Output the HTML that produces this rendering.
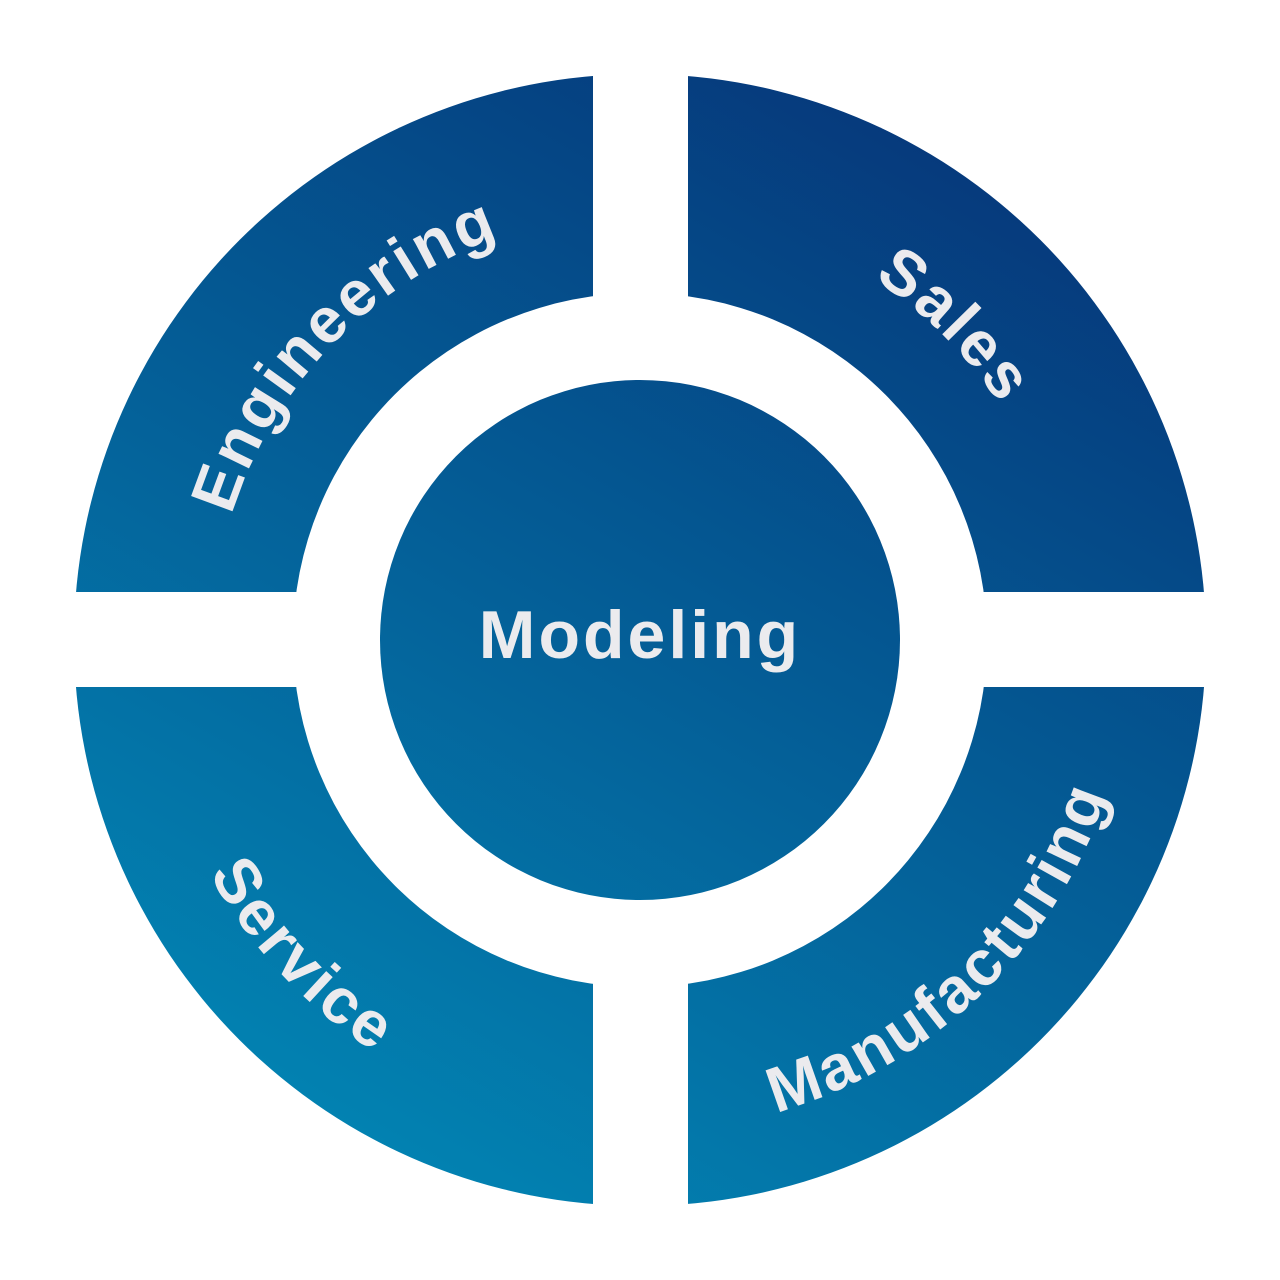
<!DOCTYPE html>
<html><head><meta charset="utf-8"><style>
html,body{margin:0;padding:0;background:#fff;}
svg{display:block}
text{font-family:"Liberation Sans",sans-serif;font-weight:bold;fill:#ebebee;}
</style></head><body>
<svg width="1280" height="1280" viewBox="0 0 1280 1280">
<defs>
<linearGradient id="g" gradientUnits="userSpaceOnUse" x1="1000" y1="60" x2="330" y2="1230">
<stop offset="0" stop-color="#063377"/>
<stop offset="1" stop-color="#0288b6"/>
</linearGradient>
<path id="pe" d="M341.3,949.3 A430,430 0 0,1 938.7,330.7" fill="none"/>
<path id="ps" d="M335.9,335.9 A430,430 0 0,1 944.1,944.1" fill="none"/>
<path id="pv" d="M305.8,281.6 A490,490 0 0,0 974.2,998.4" fill="none"/>
<path id="pm" d="M286.1,981.8 A492,492 0 0,0 993.9,298.2" fill="none"/>
</defs>
<rect width="1280" height="1280" fill="#fff"/>
<circle cx="640" cy="640" r="566" fill="url(#g)"/>
<circle cx="640" cy="640" r="347" fill="#fff"/>
<circle cx="640" cy="640" r="260" fill="url(#g)"/>
<rect x="593" y="60" width="95" height="320" fill="#fff"/>
<rect x="593" y="900" width="95" height="320" fill="#fff"/>
<rect x="60" y="592" width="320" height="95" fill="#fff"/>
<rect x="900" y="592" width="320" height="95" fill="#fff"/>
<text font-size="64" letter-spacing="3"><textPath href="#pe" startOffset="50%" text-anchor="middle">Engineering</textPath></text>
<text font-size="64" letter-spacing="3"><textPath href="#ps" startOffset="50%" text-anchor="middle">Sales</textPath></text>
<text font-size="64" letter-spacing="3"><textPath href="#pv" startOffset="50%" text-anchor="middle">Service</textPath></text>
<text font-size="64" letter-spacing="3"><textPath href="#pm" startOffset="50%" text-anchor="middle">Manufacturing</textPath></text>
<text x="640" y="658" font-size="68" letter-spacing="3" text-anchor="middle">Modeling</text>
</svg>
</body></html>
